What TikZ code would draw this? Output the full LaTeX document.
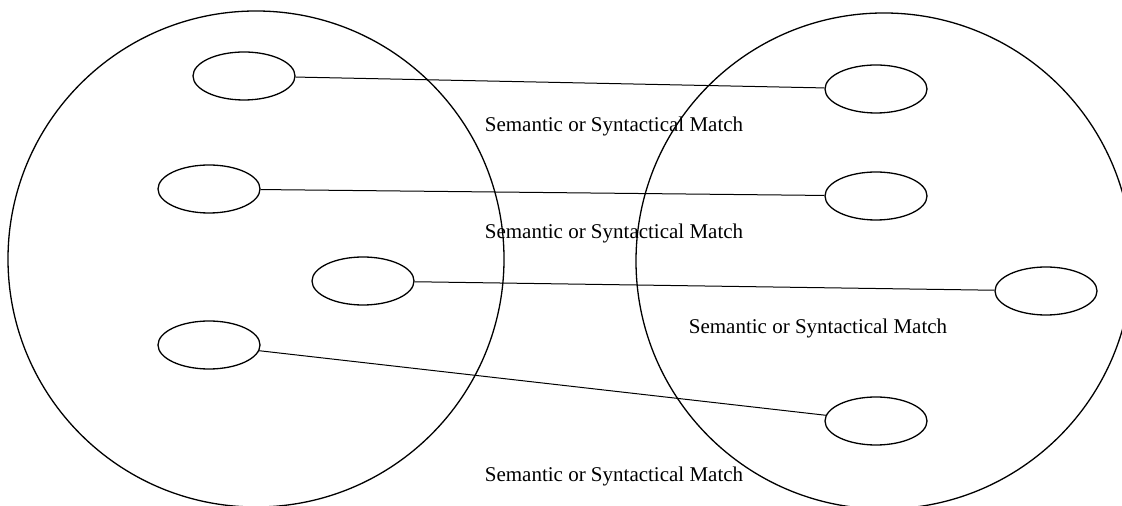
\documentclass[tikz,border=0pt]{standalone}
\usepackage{fontspec}
\setmainfont{Liberation Serif}
\usetikzlibrary{shapes.geometric}
\begin{document}
\begin{tikzpicture}[x=0.5pt,y=-0.5pt,
    set/.style={draw,circle,minimum size=248pt,inner sep=0pt,line width=0.65pt},
    elem/.style={draw,ellipse,minimum width=51pt,minimum height=24pt,inner sep=0pt,line width=0.65pt},
    match/.style={font=\fontsize{10.5}{12}\selectfont,inner sep=0pt}]
  \useasboundingbox (0,0) rectangle (1122,506);
  % the two sets
  \node[set] (srcset) at (256,259) {};
  \node[set] (tgtset) at (884,261) {};
  % elements of the left set
  \node[elem] (s1) at (244,76) {};
  \node[elem] (s2) at (209,189) {};
  \node[elem] (s3) at (363,281) {};
  \node[elem] (s4) at (209,345) {};
  % elements of the right set
  \node[elem] (t1) at (876,89) {};
  \node[elem] (t2) at (876,196) {};
  \node[elem] (t3) at (1046,291) {};
  \node[elem] (t4) at (876,421) {};
  % matches
  \draw[line width=0.5pt] (s1) -- (t1);
  \draw[line width=0.5pt] (s2) -- (t2);
  \draw[line width=0.5pt] (s3) -- (t3);
  \draw[line width=0.5pt] (s4) -- (t4);
  \node[match] (m1) at (614,126) {Semantic or Syntactical Match};
  \node[match] (m2) at (614,233) {Semantic or Syntactical Match};
  \node[match] (m3) at (818,328) {Semantic or Syntactical Match};
  \node[match] (m4) at (614,476) {Semantic or Syntactical Match};
\end{tikzpicture}
\end{document}
